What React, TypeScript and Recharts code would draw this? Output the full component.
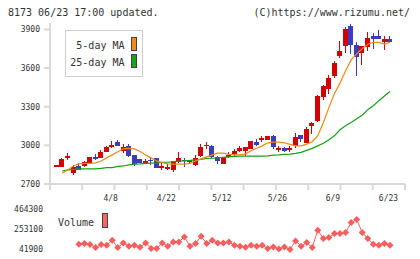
import React from 'react';
import { ComposedChart, LineChart, Bar, Line, XAxis, YAxis, Legend } from 'recharts';

const FONT = '"DejaVu Sans Mono", monospace';
const TEXT = '#333';
const AXIS = '#d9d9d9';
const UP = '#d40000';
const DOWN = '#3c3cbe';
const MA5_COLOR = '#f08a12';
const MA25_COLOR = '#14a314';
const VOL_COLOR = '#ff5c5c';

// trading days shown on the chart
const dates = [
  '3/25', '3/26', '3/27', '3/30', '3/31', '4/1', '4/2', '4/3', '4/6', '4/7',
  '4/8', '4/9', '4/10', '4/13', '4/14', '4/15', '4/16', '4/17', '4/20', '4/21',
  '4/22', '4/23', '4/24', '4/27', '4/28', '4/30', '5/1', '5/7', '5/8', '5/11',
  '5/12', '5/13', '5/14', '5/15', '5/18', '5/19', '5/20', '5/21', '5/22', '5/25',
  '5/26', '5/27', '5/28', '5/29', '6/1', '6/2', '6/3', '6/4', '6/5', '6/8',
  '6/9', '6/10', '6/11', '6/12', '6/15', '6/16', '6/17', '6/18', '6/19', '6/22',
  '6/23',
];

const opens = [
  2846, 2832, 2903, 2783, 2840, 2840, 2858, 2911, 2905, 2945,
  2990, 3023, 2958, 2997, 2924, 2897, 2862, 2888, 2903, 2828,
  2820, 2809, 2870, 2888, 2870, 2849, 2919, 2992, 2997, 2906,
  2859, 2908, 2934, 2953, 2958, 2973, 3028, 3044, 3038, 3075,
  2966, 2979, 2963, 2992, 3078, 3018, 3149, 3193, 3375, 3436,
  3539, 3695, 3768, 3929, 3776, 3718, 3760, 3849, 3849, 3799,
  3826,
];
const highs = [
  2846, 2900, 2942, 2850, 2864, 2880, 2911, 2932, 2966, 2995,
  3030, 3044, 3014, 3014, 2926, 2897, 2895, 2906, 2903, 2862,
  2855, 2877, 2945, 2903, 2888, 2926, 3010, 3025, 3003, 2919,
  2913, 2947, 2971, 2992, 2990, 3036, 3052, 3073, 3073, 3083,
  2992, 2989, 2997, 3099, 3078, 3140, 3185, 3389, 3469, 3545,
  3656, 3812, 3921, 3945, 3802, 3768, 3880, 3872, 3898, 3849,
  3849,
];
const lows = [
  2846, 2830, 2890, 2770, 2809, 2835, 2852, 2890, 2905, 2945,
  2980, 2992, 2942, 2911, 2843, 2860, 2854, 2849, 2828, 2809,
  2805, 2795, 2862, 2835, 2854, 2843, 2906, 2975, 2898, 2854,
  2859, 2900, 2921, 2947, 2921, 2973, 2992, 3028, 3038, 2971,
  2947, 2947, 2947, 2979, 3023, 3018, 3092, 3180, 3349, 3401,
  3526, 3682, 3716, 3711, 3539, 3622, 3729, 3752, 3826, 3737,
  3791,
];
const closes = [
  2846, 2897, 2918, 2835, 2809, 2869, 2911, 2895, 2952, 2991,
  3002, 2992, 2989, 2919, 2858, 2866, 2875, 2875, 2828, 2843,
  2835, 2877, 2903, 2875, 2888, 2903, 2989, 3005, 2913, 2875,
  2913, 2926, 2958, 2979, 2984, 3030, 3005, 3054, 3073, 2987,
  2976, 2960, 2979, 3067, 3052, 3130, 3172, 3381, 3461, 3522,
  3643, 3732, 3905, 3783, 3685, 3768, 3831, 3826, 3826, 3826,
  3805,
];

const ma5 = [
  null, 2786, 2809, 2840, 2856, 2860, 2860, 2864, 2879, 2903,
  2926, 2950, 2973, 2977, 2973, 2953, 2926, 2903, 2879, 2866,
  2856, 2854, 2854, 2854, 2860, 2879, 2895, 2911, 2926, 2940,
  2940, 2930, 2926, 2926, 2934, 2958, 2977, 2996, 3020, 3025,
  3025, 3020, 3008, 2996, 2996, 3010, 3028, 3075, 3176, 3293,
  3403, 3483, 3577, 3663, 3710, 3750, 3785, 3800, 3800, 3786,
  3800,
];
const ma25 = [
  null, 2801, 2809, 2813, 2817, 2817, 2817, 2817, 2821, 2827,
  2827, 2837, 2840, 2848, 2854, 2856, 2860, 2862, 2864, 2868,
  2869, 2874, 2877, 2879, 2883, 2887, 2891, 2899, 2900, 2903,
  2907, 2911, 2914, 2916, 2916, 2916, 2916, 2916, 2918, 2924,
  2926, 2930, 2932, 2938, 2946, 2961, 2977, 2996, 3016, 3043,
  3074, 3121, 3152, 3178, 3207, 3234, 3277, 3308, 3347, 3383,
  3418,
];
const volumes = [
  null, null, null, null, 94000, 101000, 91000, 59600, 91000, 83500,
  135500, 59600, 107500, 73000, 83500, 62700, 107500, 49000, 49000, 107500,
  73000, 118000, 118000, 170000, 73000, 101000, 177000, 101000, 135500, 107500,
  107500, 118000, 83500, 73000, 62700, 83500, 73000, 83500, 49000, 66000,
  45000, 66000, 40000, 128000, 73000, 111600, 59600, 239600, 153200, 163600,
  205200, 205200, 215600, 319700, 350900, 215600, 153200, 94000, 83500, 101000,
  83500,
];

const tickDates = ['4/8', '4/22', '5/12', '5/26', '6/9', '6/23'];
const priceTicks = [2700, 3000, 3300, 3600, 3900];
const volumeTicks = [41900, 253100, 464300];

const X_MIN = -1.2;
const X_MAX = 62.7;
const gridTicks = Array.from({ length: 12 }, (_, k) =>
  k === 11 ? X_MAX : X_MIN + (k * (X_MAX - X_MIN)) / 11,
);
const labelTicks = tickDates.map((d) => dates.indexOf(d));
const xTicks = [...gridTicks, ...labelTicks].sort((a, b) => a - b);

const rows = dates.map((date, i) => ({
  i,
  date,
  open: opens[i],
  high: highs[i],
  low: lows[i],
  close: closes[i],
  range: [lows[i], highs[i]],
  ma5: ma5[i],
  ma25: ma25[i],
  vol: volumes[i],
}));

const Candle = (props: any) => {
  const { x, y, width, height, payload } = props;
  if (x == null || y == null || !payload) return <g />;
  const { open, close, high, low } = payload;
  const color = close >= open ? UP : DOWN;
  const mid = Math.floor(x + width / 2) + 0.5;
  const toY = (v: number) => (high === low ? y : y + ((high - v) / (high - low)) * height);
  const top = toY(Math.max(open, close));
  const bottom = toY(Math.min(open, close));
  return (
    <g shapeRendering="crispEdges">
      <line x1={mid} x2={mid} y1={y} y2={y + height} stroke={color} strokeWidth={1} />
      <rect x={mid - 2.5} y={top} width={5} height={Math.max(bottom - top, 1.5)} fill={color} />
    </g>
  );
};

const DateTick = (props: any) => {
  const { x, y, payload } = props;
  const v = payload.value;
  if (labelTicks.includes(v)) {
    return (
      <text x={x - 1.5} y={y + 11} textAnchor="middle" fontSize={8} fontFamily={FONT} fill={TEXT}>
        {dates[v]}
      </text>
    );
  }
  return <line x1={x} x2={x} y1={y - 6} y2={y} stroke={AXIS} strokeWidth={2} />;
};

const Diamond = (props: any) => {
  const { cx, cy, payload } = props;
  if (cx == null || cy == null || payload?.vol == null) return <g key={props.key} />;
  const r = 3.5;
  return (
    <polygon
      key={props.key}
      points={`${cx},${cy - r} ${cx + r},${cy} ${cx},${cy + r} ${cx - r},${cy}`}
      fill={VOL_COLOR}
    />
  );
};

const swatch = (color: string): React.CSSProperties => ({
  position: 'absolute',
  width: 6,
  height: 14,
  boxSizing: 'border-box',
  border: '1px solid #444',
  background: color,
});

const labelText: React.CSSProperties = {
  position: 'absolute',
  fontFamily: FONT,
  fontSize: 10,
  lineHeight: '12px',
  color: TEXT,
  whiteSpace: 'nowrap',
};

const PriceLegend = () => (
  <div
    style={{
      position: 'relative',
      width: 78,
      height: 47,
      boxSizing: 'border-box',
      border: '1px solid #cfcfcf',
      background: '#fff',
    }}
  >
    <span style={{ ...labelText, right: 17.5, top: 8.5 }}>5-day MA</span>
    <span style={{ ...swatch('#f28a1a'), left: 65, top: 6.3 }} />
    <span style={{ ...labelText, right: 17.5, top: 25.5 }}>25-day MA</span>
    <span style={{ ...swatch('#19a519'), left: 65, top: 23.3 }} />
  </div>
);

const VolumeLegend = () => (
  <div style={{ position: 'relative', width: 52, height: 16 }}>
    <span style={{ ...labelText, left: 0, top: 4.2 }}>Volume</span>
    <span style={{ ...swatch('#ff6464'), left: 44, top: 0, height: 15 }} />
  </div>
);

const tickStyle = { fontSize: 8, fill: TEXT, fontFamily: FONT };

export default function App() {
  return (
    <div style={{ position: 'absolute', left: 0, top: 0, width: 420, height: 259, background: '#fff', overflow: 'hidden' }}>
      <div style={{ ...labelText, left: 8, top: 7.2 }}>8173 06/23 17:00 updated.</div>
      <div style={{ ...labelText, right: 10, top: 7.2 }}>(C)https://www.rizumu.net/</div>

      <div style={{ position: 'absolute', left: 0, top: 0 }}>
        <ComposedChart width={420} height={204} data={rows} margin={{ top: 23, right: 15, bottom: 0, left: 0 }}>
          <XAxis
            dataKey="i"
            type="number"
            domain={[X_MIN, X_MAX]}
            allowDataOverflow
            ticks={xTicks}
            interval={0}
            tickLine={false}
            tickSize={6}
            tickMargin={0}
            height={20}
            axisLine={{ stroke: AXIS, strokeWidth: 2 }}
            tick={(p: any) => <DateTick {...p} />}
          />
          <YAxis
            type="number"
            domain={[2700, 3950]}
            allowDataOverflow
            ticks={priceTicks}
            interval={0}
            width={50}
            tickSize={6}
            tickMargin={4}
            axisLine={{ stroke: AXIS, strokeWidth: 2 }}
            tickLine={{ stroke: AXIS, strokeWidth: 2 }}
            tick={tickStyle}
          />
          <Line dataKey="ma25" stroke={MA25_COLOR} strokeWidth={1.2} dot={false} isAnimationActive={false} />
          <Line dataKey="ma5" stroke={MA5_COLOR} strokeWidth={1.2} dot={false} isAnimationActive={false} />
          <Bar dataKey="range" barSize={5} shape={(p: any) => <Candle {...p} />} isAnimationActive={false} />
          <Legend
            layout="horizontal"
            verticalAlign="middle"
            align="center"
            wrapperStyle={{ left: 65, top: 30, width: 78 }}
            content={() => <PriceLegend />}
          />
        </ComposedChart>
      </div>

      <div style={{ position: 'absolute', left: 0, top: 200 }}>
        <LineChart width={420} height={59} data={rows} margin={{ top: 8.7, right: 15, bottom: 6, left: 0 }}>
          <XAxis dataKey="i" type="number" domain={[X_MIN, X_MAX]} allowDataOverflow hide />
          <YAxis
            type="number"
            domain={[2300, 464300]}
            allowDataOverflow
            ticks={volumeTicks}
            interval={0}
            width={50}
            axisLine={false}
            tickLine={false}
            tickSize={0}
            tickMargin={7}
            tick={tickStyle}
          />
          <Line
            dataKey="vol"
            stroke={VOL_COLOR}
            strokeWidth={1}
            dot={(p: any) => <Diamond {...p} />}
            isAnimationActive={false}
          />
          <Legend
            layout="horizontal"
            verticalAlign="middle"
            align="center"
            wrapperStyle={{ left: 58, top: 13, width: 52 }}
            content={() => <VolumeLegend />}
          />
        </LineChart>
      </div>
    </div>
  );
}
